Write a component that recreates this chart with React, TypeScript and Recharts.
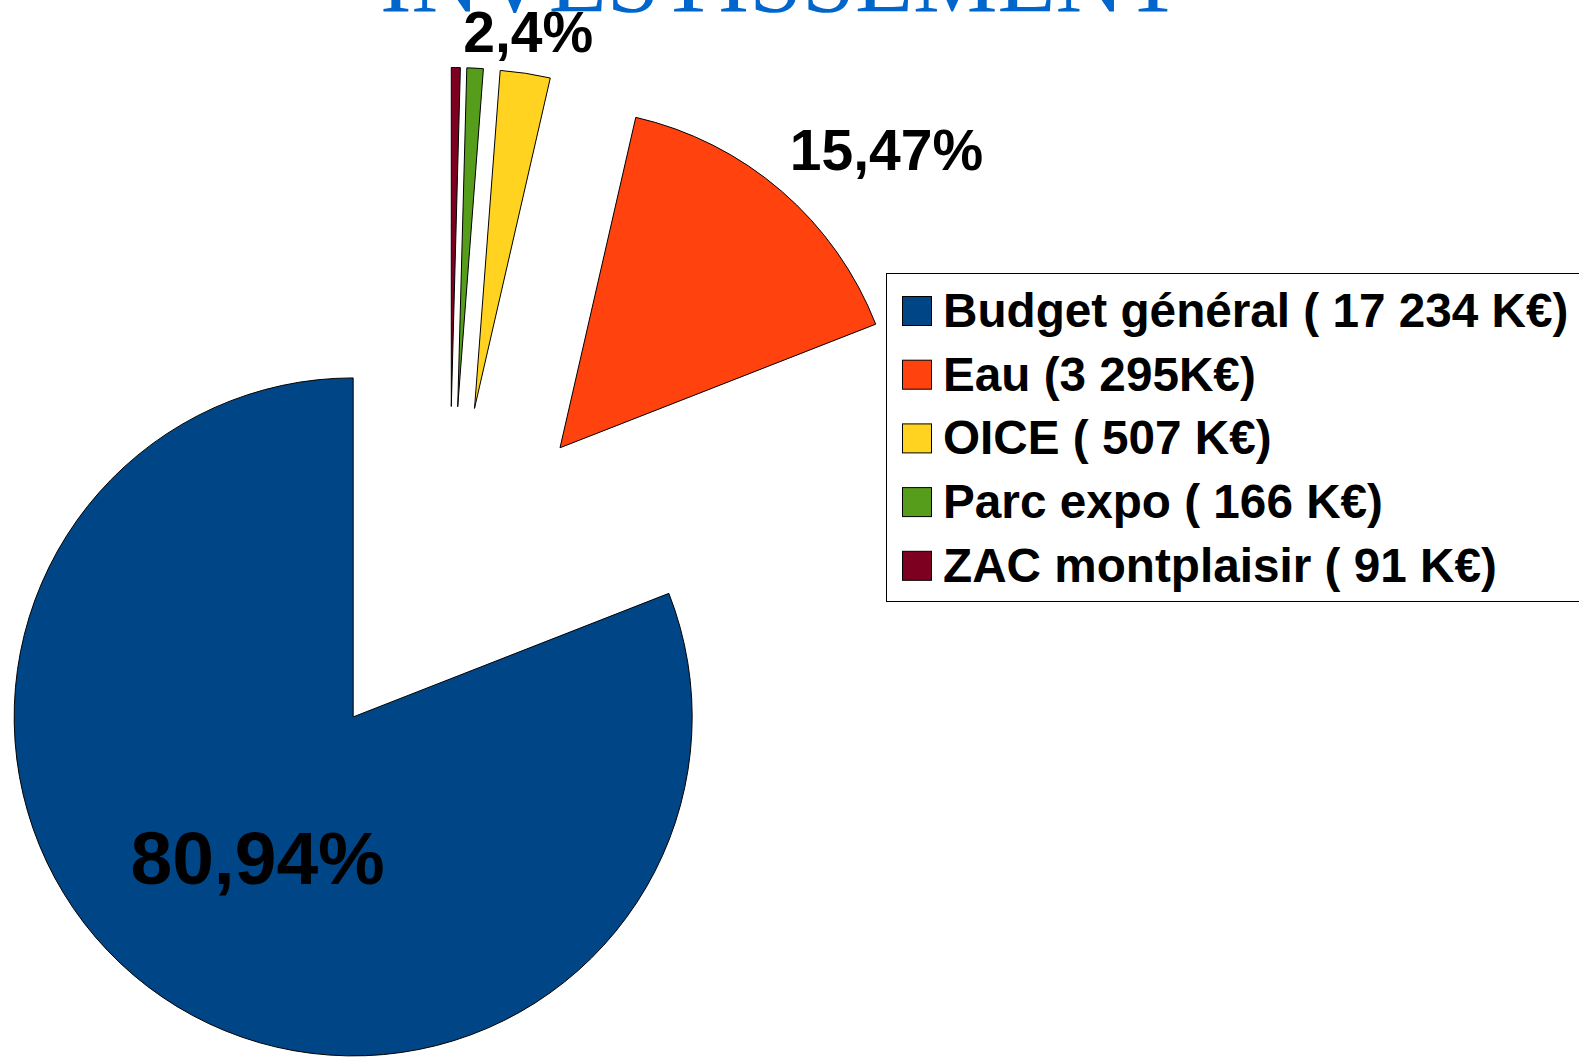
import React from "react";
import { PieChart, Pie, Cell, Legend } from "recharts";

const title = "INVESTISSEMENT";
const categories = ["Budget général", "Eau", "OICE", "Parc expo", "ZAC montplaisir"];
const values = [17234, 3295, 507, 166, 91];
const legendLabels = [
  "Budget général ( 17 234 K€)",
  "Eau (3 295K€)",
  "OICE ( 507 K€)",
  "Parc expo ( 166 K€)",
  "ZAC montplaisir ( 91 K€)",
];
const sliceLabels = ["80,94%", "15,47%", "2,4%", "", ""];
const colors = ["#004586", "#ff420e", "#ffd320", "#579d1c", "#7e0021"];

const data = categories.map((name, i) => ({ name, value: values[i] }));

const W = 1579;
const H = 1057;
const CENTER_X = 449;
const CENTER_Y = 576.5;
const RADIUS = 339;
const EXPLODE = 170;
const START = 90;
const END = 450;

const total = values.reduce((a, b) => a + b, 0);
const midAngles: number[] = (() => {
  let acc = 0;
  return values.map((v) => {
    const s = START + (acc / total) * (END - START);
    acc += v;
    const e = START + (acc / total) * (END - START);
    return (s + e) / 2;
  });
})();

const RAD = Math.PI / 180;
const FONT = "'Liberation Sans', Arial, sans-serif";

const makeLabel = (k: number) => (props: any) => {
  const { cx, cy, midAngle, outerRadius, index } = props;
  if (index !== k || !sliceLabels[k]) return null;
  const c = Math.cos(midAngle * RAD);
  const s = Math.sin(midAngle * RAD);
  if (k === 0) {
    const r = outerRadius * 0.5;
    return (
      <text
        x={cx + r * c}
        y={cy - r * s}
        textAnchor="middle"
        dy="0.36em"
        fontFamily={FONT}
        fontWeight="bold"
        fontSize={75}
        fill="#000"
      >
        {sliceLabels[k]}
      </text>
    );
  }
  const r = outerRadius + 19;
  const centered = Math.abs(c) < 0.35;
  const anchor = centered ? "middle" : c > 0 ? "start" : "end";
  return (
    <text
      x={cx + r * c + (centered ? 0 : -4)}
      y={cy - r * s + (centered ? -2 : -7)}
      textAnchor={anchor}
      fontFamily={FONT}
      fontWeight="bold"
      fontSize={57}
      fill="#000"
    >
      {sliceLabels[k]}
    </text>
  );
};

const LegendBox = () => (
  <svg width={720} height={330} style={{ display: "block" }}>
    <rect x={0.5} y={0.5} width={740} height={328} fill="#fff" stroke="#000" strokeWidth={1} />
    {legendLabels.map((t, i) => (
      <g key={t}>
        <rect
          x={16.5}
          y={23.5 + i * 63.7}
          width={29}
          height={29}
          fill={colors[i]}
          stroke="#000"
          strokeWidth={1}
        />
        <text
          x={57}
          y={54 + i * 63.7}
          fontFamily={FONT}
          fontWeight="bold"
          fontSize={47.7}
          fill="#000"
        >
          {t}
        </text>
      </g>
    ))}
  </svg>
);

export default function App() {
  return (
    <div
      style={{
        position: "absolute",
        left: 0,
        top: 0,
        width: W,
        height: H,
        overflow: "hidden",
        background: "#fff",
      }}
    >
      <svg
        width={W}
        height={H}
        style={{ position: "absolute", left: 0, top: 0, pointerEvents: "none" }}
      >
        <text
          x={781}
          y={12}
          textAnchor="middle"
          fontFamily="'Liberation Serif', 'Times New Roman', serif"
          fontSize={95}
          fill="#0066cc"
        >
          {title}
        </text>
      </svg>
      <PieChart width={W} height={H} margin={{ top: 0, right: 0, bottom: 0, left: 0 }}>
        {data.map((_, k) => (
          <Pie
            key={k}
            data={data}
            dataKey="value"
            nameKey="name"
            cx={CENTER_X + EXPLODE * Math.cos(midAngles[k] * RAD)}
            cy={CENTER_Y - EXPLODE * Math.sin(midAngles[k] * RAD)}
            innerRadius={0}
            outerRadius={RADIUS}
            startAngle={START}
            endAngle={END}
            isAnimationActive={false}
            label={makeLabel(k)}
            labelLine={false}
          >
            {data.map((d, i) => (
              <Cell
                key={d.name}
                fill={i === k ? colors[i] : "transparent"}
                stroke={i === k ? "#000" : "none"}
                strokeWidth={1}
              />
            ))}
          </Pie>
        ))}
        <Legend
          layout="vertical"
          align="right"
          verticalAlign="middle"
          content={() => <LegendBox />}
          wrapperStyle={{ left: 886, top: 273, width: 720, height: 330 }}
        />
      </PieChart>
    </div>
  );
}
